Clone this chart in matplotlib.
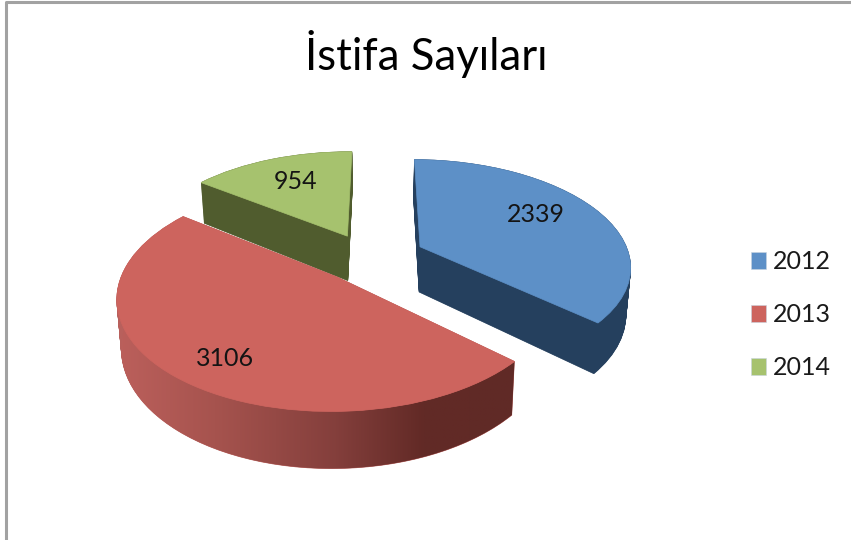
import numpy as np
import matplotlib
matplotlib.use("Agg")
import matplotlib.pyplot as plt
from matplotlib.transforms import Transform
from matplotlib.patches import Polygon, Patch
from matplotlib.colors import LinearSegmentedColormap
from matplotlib.lines import Line2D

plt.rcParams['font.family'] = ['Lato', 'DejaVu Sans']

# --- data ---
categories = ['2012', '2013', '2014']
values = [2339, 3106, 954]
title_text = 'İstifa Sayıları'

# --- style ---
top_colors = ['#5d90c7', '#cd645e', '#a6c26e']
side_colors = ['#25405e', '#b8605c', '#505c2e']
explode = [0.27, 0.23, 0.24]
label_radius = [0.69, 0.79, 0.68]
label_turn = [5, 5, -1]
START = 89.5
draw_order = [2, 0, 1]  # back to front

CX, CY, A, B, K, H = 369, 258, 210, 105, 0.165, 46
W, HT = 851, 540


class Perspective(Transform):
    input_dims = output_dims = 2
    is_separable = False
    has_inverse = False

    def __init__(self, z=0.0):
        super().__init__()
        self.z = z

    def transform_non_affine(self, values):
        v = np.asarray(values, float)
        s = 1 / (1 + K * v[:, 1])
        x = CX + A * v[:, 0] * s * (1 - 0.018 * self.z)
        y = CY - B * v[:, 1] * s + H * self.z * s
        return np.column_stack([x, y])


fig = plt.figure(figsize=(W / 100, HT / 100), dpi=100, facecolor='white')
ax = fig.add_axes([0, 0, 1, 1])


def pie_layer(z):
    wedges, _ = ax.pie(values, explode=explode, startangle=START, counterclock=False)
    for w in wedges:
        w.set_transform(Perspective(z) + ax.transData)
    return wedges


# extruded side faces: a stack of pies, slice by slice
LAYERS = 70
for k, z in enumerate(np.linspace(1, 0, LAYERS)):
    for i, w in enumerate(pie_layer(z)):
        w.set_facecolor(side_colors[i])
        w.set_edgecolor(side_colors[i])
        w.set_linewidth(0.5)
        w.set_zorder(10 * draw_order.index(i) + 1 + k / LAYERS)

# top faces
top_wedges = pie_layer(0.0)
for i, w in enumerate(top_wedges):
    w.set_facecolor(top_colors[i])
    w.set_edgecolor(top_colors[i])
    w.set_linewidth(0.5)
    w.set_zorder(10 * draw_order.index(i) + 5)

# shaded outer wall of the 2013 slice
red = top_wedges[1]
t = np.radians(np.linspace(red.theta1, red.theta2, 200))
arc = np.column_stack([red.center[0] + np.cos(t), red.center[1] + np.sin(t)])
outer_top = Perspective(0.0).transform(arc)
outer_bot = Perspective(1.0).transform(arc)
wall_poly = Polygon(np.vstack([outer_top, outer_bot[::-1]]), closed=True,
                    transform=ax.transData, facecolor='none', edgecolor='none')
ax.add_patch(wall_poly)
cmap = LinearSegmentedColormap.from_list('wall', [
    (0.0, '#bc605c'), (0.25, '#a6534e'), (0.55, '#843f3c'), (0.77, '#622a26'), (1.0, '#602a26')])
grad = ax.imshow(np.linspace(0, 1, 256)[None, :], extent=(115, 516, 520, 280), cmap=cmap,
                 aspect='auto', zorder=10 * draw_order.index(1) + 3)
grad.set_clip_path(wall_poly)

# value labels
for i, w in enumerate(top_wedges):
    mid = np.radians((w.theta1 + w.theta2) / 2 + label_turn[i])
    p = np.array([[w.center[0] + label_radius[i] * np.cos(mid),
                   w.center[1] + label_radius[i] * np.sin(mid)]])
    x, y = Perspective(0.0).transform(p)[0]
    ax.text(x, y, str(values[i]), ha='center', va='center', fontsize=18,
            color='#141414', zorder=50)

ax.text(426, 54, title_text, ha='center', va='center', fontsize=31.5, color='black', zorder=50)

handles = [Patch(facecolor=c, edgecolor='#c8d4e0', linewidth=0.4) for c in top_colors]
ax.legend(handles, categories, loc='center left', bbox_to_anchor=(751 / W, 1 - 314.5 / HT),
          bbox_transform=fig.transFigure, frameon=False, fontsize=18, handlelength=0.58,
          handleheight=0.66, handletextpad=0.3, labelspacing=1.2, borderpad=0, borderaxespad=0,
          labelcolor='#1a1a1a')

# screenshot frame
ax.add_line(Line2D([5.5, 5.5, W], [HT, 2, 2], color='#a2a2a2', lw=2.2, zorder=60))

ax.set_xlim(0, W)
ax.set_ylim(HT, 0)
ax.set_aspect('auto')
ax.axis('off')
fig.savefig('out.png', dpi=100)
